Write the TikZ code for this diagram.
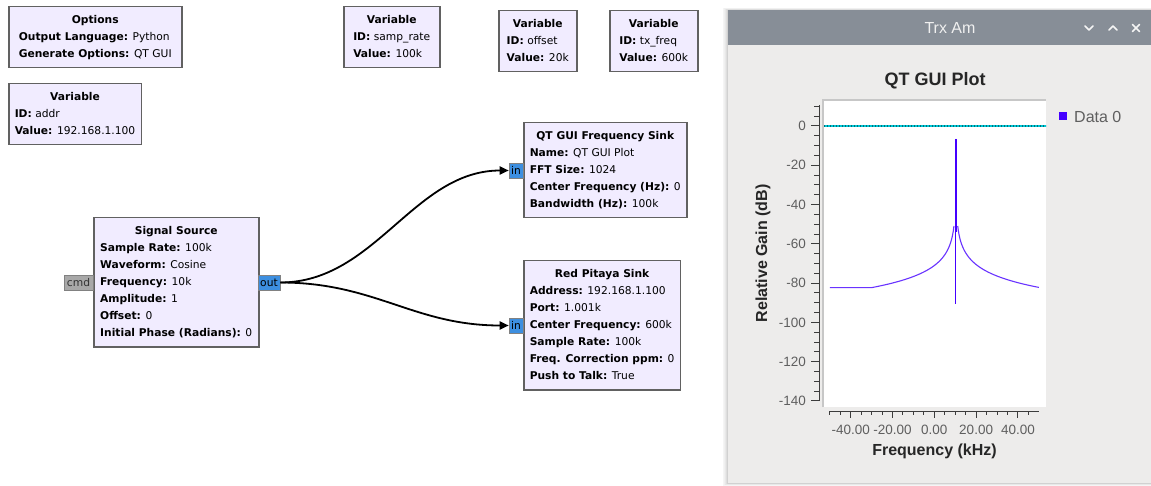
\documentclass[tikz,border=0pt]{standalone}
\usepackage{fontspec}
\setmainfont{DejaVu Sans}
\newfontfamily\plotfont{Liberation Sans}
\usetikzlibrary{arrows.meta}

\definecolor{blockfill}{RGB}{241,236,255}
\definecolor{blockline}{RGB}{97,97,97}
\definecolor{portblue}{RGB}{61,143,224}
\definecolor{portgray}{RGB}{168,168,168}
\definecolor{titlebar}{RGB}{135,142,151}
\definecolor{winbg}{RGB}{237,236,235}
\definecolor{trace}{RGB}{68,0,255}
\definecolor{axisgray}{RGB}{60,60,60}
\definecolor{labelgray}{RGB}{95,95,95}
\definecolor{refline}{RGB}{0,200,215}
\definecolor{refdot}{RGB}{0,110,120}

% block body: bold centred title over left aligned parameter lines
\newcommand\grctab[2]{\begin{tabular}{@{}l@{}}\multicolumn{1}{@{}c@{}}{\bfseries #1}\\#2\end{tabular}}

\tikzset{
  grcblock/.style={draw=blockline, line width=1.5pt, fill=blockfill, anchor=north west,
    inner xsep=6pt, inner ysep=5pt, font=\fontsize{10.7}{17}\selectfont},
  port/.style={draw=blockline!80, line width=0.6pt, inner sep=0pt, minimum height=15pt,
    font=\fontsize{10.7}{12}\selectfont},
  msgport/.style={port, fill=portgray, text=black!80},
  sigport/.style={port, fill=portblue, text=black},
  wire/.style={line width=1.8pt, -{Triangle[length=9pt,width=8pt]}},
  axisline/.style={draw=axisgray, line width=1pt},
  ticklabel/.style={font=\plotfont\fontsize{13.5}{14}\selectfont, text=labelgray, inner sep=0pt},
  axistitle/.style={font=\plotfont\bfseries\fontsize{16}{16}\selectfont, text=black!85, inner sep=0pt},
  winicon/.style={draw=white!92!gray, line width=1.6pt, line cap=round, line join=round}
}

\begin{document}
\begin{tikzpicture}[x=1pt,y=-1pt]
\useasboundingbox (0,0) rectangle (1151,486);
\fill[white] (0,0) rectangle (1151,486);

% ---------------- flow graph ----------------
\node[grcblock, minimum width=173pt] (options) at (8,6)
  {\grctab{Options}{\textbf{Output Language:} Python\\\textbf{Generate Options:} QT GUI}};
\node[grcblock, minimum width=130pt] (varaddr) at (8,83)
  {\grctab{Variable}{\textbf{ID:} addr\\\textbf{Value:} 192.168.1.100}};
\node[grcblock, minimum width=96pt] (varsamp) at (343,6)
  {\grctab{Variable}{\textbf{ID:} samp\_rate\\\textbf{Value:} 100k}};
\node[grcblock, minimum width=78pt] (varoffset) at (498,10)
  {\grctab{Variable}{\textbf{ID:} offset\\\textbf{Value:} 20k}};
\node[grcblock, minimum width=88pt] (vartx) at (609,10)
  {\grctab{Variable}{\textbf{ID:} tx\_freq\\\textbf{Value:} 600k}};

\node[grcblock, minimum width=165pt] (source) at (93,217)
  {\grctab{Signal Source}{\textbf{Sample Rate:} 100k\\\textbf{Waveform:} Cosine\\
   \textbf{Frequency:} 10k\\\textbf{Amplitude:} 1\\\textbf{Offset:} 0\\
   \textbf{Initial Phase (Radians):} 0}};
\node[grcblock, minimum width=163pt] (freqsink) at (523,122)
  {\grctab{QT GUI Frequency Sink}{\textbf{Name:} QT GUI Plot\\\textbf{FFT Size:} 1024\\
   \textbf{Center Frequency (Hz):} 0\\\textbf{Bandwidth (Hz):} 100k}};
\node[grcblock, minimum width=156pt] (pitaya) at (523,260)
  {\grctab{Red Pitaya Sink}{\textbf{Address:} 192.168.1.100\\\textbf{Port:} 1.001k\\
   \textbf{Center Frequency:} 600k\\\textbf{Sample Rate:} 100k\\
   \textbf{Freq. Correction ppm:} 0\\\textbf{Push to Talk:} True}};

% ports
\node[msgport, minimum width=29pt] (srccmd) at (78.5,282.5) {cmd};
\node[sigport, minimum width=22pt] (srcout) at (269,282.5) {out};
\node[sigport, minimum width=14pt] (fsin) at (516,170.5) {in};
\node[sigport, minimum width=14pt] (rpin) at (516,325.5) {in};

% connections
\draw[wire] (srcout.east) .. controls +(95,0) and +(-95,0) .. (fsin.west);
\draw[wire] (srcout.east) .. controls +(95,0) and +(-95,0) .. (rpin.west);

% ---------------- plot window ----------------
% soft window shadow
\foreach \s/\c in {5/4,4/6,3/9,2/13,1/18}
  \fill[black!\c] (728-\s,10-\s*0.4) rectangle (1151,483+\s*0.6);
\fill[winbg] (728,45) rectangle (1151,483);
\fill[titlebar] (728,10) rectangle (1151,45);
\node[font=\plotfont\fontsize{16}{16}\selectfont, text=white!88!gray] (wintitle) at (950,28) {Trx Am};
% title bar buttons
\draw[winicon] (1085,26) -- (1089,30) -- (1093,26);
\draw[winicon] (1109,30) -- (1113,26) -- (1117,30);
\draw[winicon] (1132.5,24.5) -- (1139.5,31.5) (1132.5,31.5) -- (1139.5,24.5);

\node[font=\plotfont\bfseries\fontsize{18}{18}\selectfont, text=black!85] (plottitle) at (935,81) {QT GUI Plot};

% canvas
\fill[white] (823,100) rectangle (1046,407);
\draw[black!22, line width=1.2pt] (823,407) -- (823,100) -- (1046,100);

% reference line at 0 dB
\draw[refline, line width=1.1pt] (824,126) -- (1046,126);
\draw[refdot, line width=1.1pt, dash pattern=on 1pt off 2pt] (824,126) -- (1046,126);

% y axis (dB): y = 126 - 1.964*dB
\draw[axisline] (819,105) -- (819,401);
\foreach \d in {-135,-130,...,10}
  \draw[axisline] (819,{126-1.964*\d}) -- ++(-5,0);
\foreach \d [count=\i] in {-140,-120,...,0} {
  \draw[axisline] (819,{126-1.964*\d}) -- ++(-8,0);
  \node[ticklabel, anchor=east] (ytick\i) at (806,{126-1.964*\d}) {\d};
}
\node[axistitle, rotate=90] (ytitle) at (763,253.5) {Relative Gain (dB)};

% x axis (kHz): x = 934.3 + 2.091*f
\draw[axisline] (829,411) -- (1039,411);
\foreach \f in {-50,-45,...,45}
  \draw[axisline] ({934.3+2.091*\f},411) -- ++(0,4);
\foreach \f/\t [count=\i] in {-40/-40.00,-20/-20.00,0/0.00,20/20.00,40/40.00} {
  \draw[axisline] ({934.3+2.091*\f},411) -- ++(0,7);
  \node[ticklabel] (xtick\i) at ({934.3+2.091*\f},430) {\t};
}
\node[axistitle] (xtitle) at (934.5,451) {Frequency (kHz)};

% spectrum trace: tone at 10.3 kHz with leakage skirts down to the floor
\draw[trace!80, line width=1.1pt, line join=round]
  plot[domain=-50:9.4, samples=160]
  ({934.3+2.091*\x}, {126-1.964*max(-82.3,-51.8-19*log10(10.3-\x))});
\draw[trace!80, line width=1.1pt, line join=round]
  plot[domain=11.2:50, samples=140]
  ({934.3+2.091*\x}, {126-1.964*max(-82.3,-51.8-19*log10(\x-10.3))});
\draw[trace, line width=1pt] (955.8,139) -- (955.8,304);
\draw[trace, line width=2.2pt] (955.8,139) -- (955.8,226);
\fill[trace] (954.6,221) rectangle (957.2,232);

% legend
\fill[trace] (1059,112) rectangle (1067,120);
\node[anchor=west, font=\plotfont\fontsize{16}{16}\selectfont, text=labelgray, inner sep=0pt] (legend) at (1074,116.5) {Data 0};
\end{tikzpicture}
\end{document}
